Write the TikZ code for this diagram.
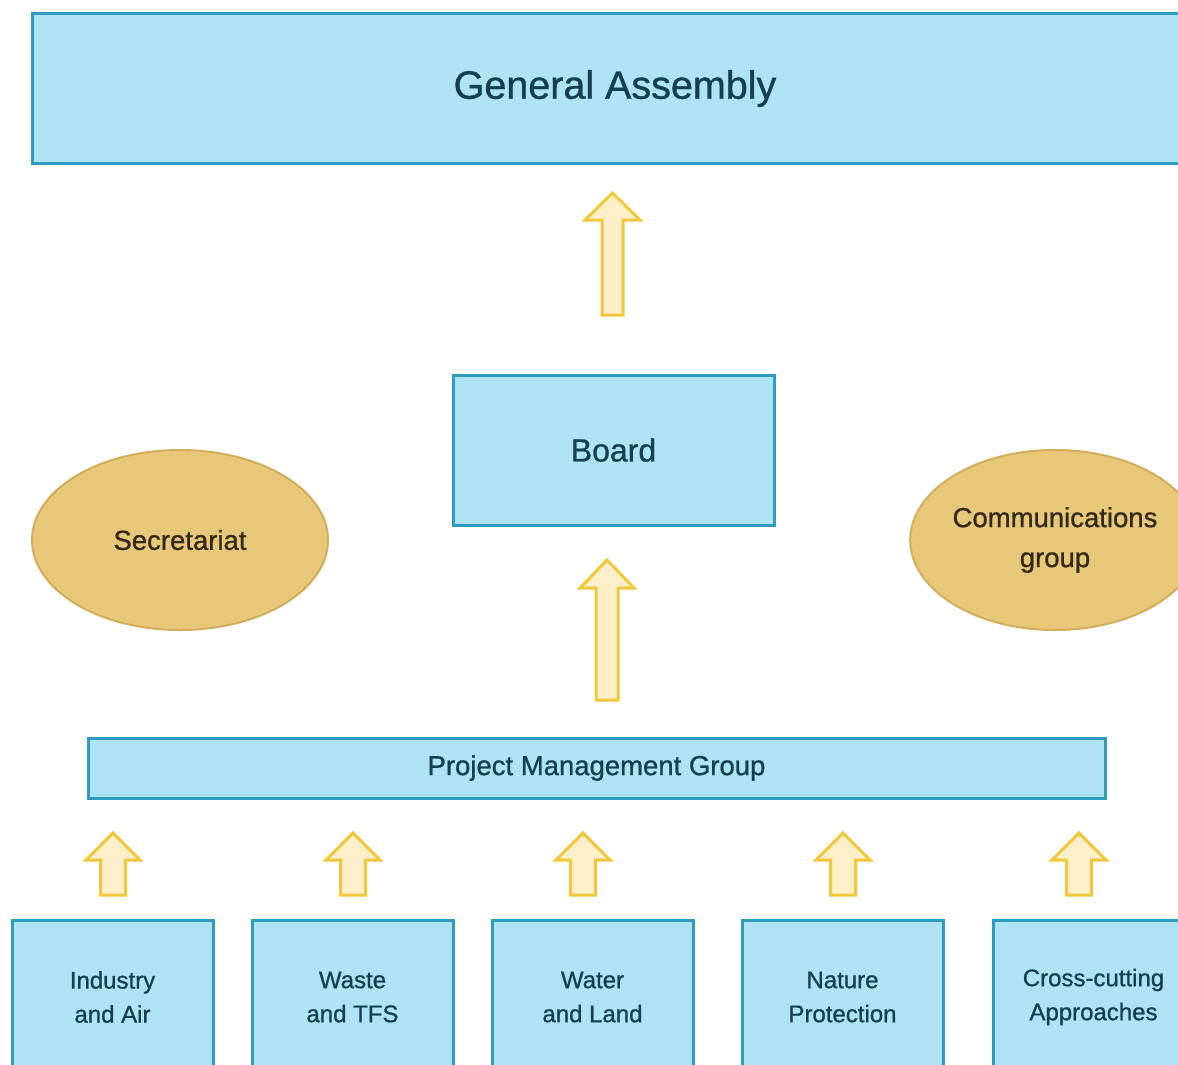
\documentclass[tikz,border=0pt]{standalone}
\usepackage{fontspec}
\setmainfont{Liberation Sans}[FakeBold=0.9]
\usetikzlibrary{shapes.geometric}
\definecolor{boxfill}{HTML}{AEE3F3}
\definecolor{boxline}{HTML}{2F9CBF}
\definecolor{boxtext}{HTML}{133F50}
\definecolor{ellfill}{HTML}{E7C878}
\definecolor{ellline}{HTML}{D2AE5C}
\definecolor{elltext}{HTML}{33291A}
\definecolor{arrfill}{HTML}{FCEFC9}
\definecolor{arrline}{HTML}{F2C83A}
\newcommand{\blockarrow}[7]{% x, ybottom, ytip, shaft half, head half, shoulder y, name
  \draw[arrowbox] (#1-#4,#2) -- (#1-#4,#6) -- (#1-#5,#6) -- (#1,#3) -- (#1+#5,#6) -- (#1+#4,#6) -- (#1+#4,#2) -- cycle;
  \coordinate (#7) at (#1,#3);}
\begin{document}
\begin{tikzpicture}[x=1pt,y=-1pt,
  bluebox/.style={draw=boxline, fill=boxfill, line width=3pt, inner sep=0pt, text=boxtext, align=center},
  oval/.style={ellipse, draw=ellline, fill=ellfill, line width=2pt, inner sep=0pt, text=elltext, align=center},
  arrowbox/.style={draw=arrline, fill=arrfill, line width=3pt, line join=miter}]
\useasboundingbox (0,0) rectangle (1178,1065);
\clip (0,0) rectangle (1178,1065);
\fill[white] (0,0) rectangle (1178,1065);
% General Assembly
\node[bluebox, minimum width=1166pt, minimum height=149pt, font=\fontsize{39.5}{44}\selectfont] (ga) at (615,88.5) {\raisebox{-4pt}{General Assembly}};
% Board
\node[bluebox, minimum width=321pt, minimum height=150pt, font=\fontsize{32}{36}\selectfont] (board) at (613.5,450) {Board};
% Ellipses
\node[oval, minimum width=296pt, minimum height=180pt, font=\fontsize{27.5}{40}\selectfont] (sec) at (180,540) {Secretariat};
\node[oval, minimum width=286pt, minimum height=180pt, font=\fontsize{27.5}{40}\selectfont] (comm) at (1055,540) {Communications\\group};
% PMG
\node[bluebox, minimum width=1017pt, minimum height=60pt, font=\fontsize{27.5}{32}\selectfont] (pmg) at (596.5,768) {\raisebox{-2pt}{Project Management Group}};
% Bottom boxes
\foreach \n/\cx/\t in {ia/112.5/{Industry\\and Air}, wt/352.5/{Waste\\and TFS}, wl/592.5/{Water\\and Land}, np/842.5/{Nature\\Protection}, cc/1093.5/{Cross-cutting\\Approaches}}{
  \node[bluebox, minimum width=201pt, minimum height=154pt, font=\fontsize{24}{34}\selectfont] (\n) at (\cx,997) {\t};
}
% Arrows
\blockarrow{612.5}{315}{193}{10.5}{27.5}{220}{a1}
\blockarrow{607}{700}{560}{11}{27}{588}{a2}
\blockarrow{113}{895}{833}{12.5}{27}{860}{a3}
\blockarrow{353}{895}{833}{12.5}{27}{860}{a4}
\blockarrow{583}{895}{833}{12.5}{27}{860}{a5}
\blockarrow{843}{895}{833}{12.5}{27}{860}{a6}
\blockarrow{1079}{895}{833}{12.5}{27}{860}{a7}
\end{tikzpicture}
\end{document}
